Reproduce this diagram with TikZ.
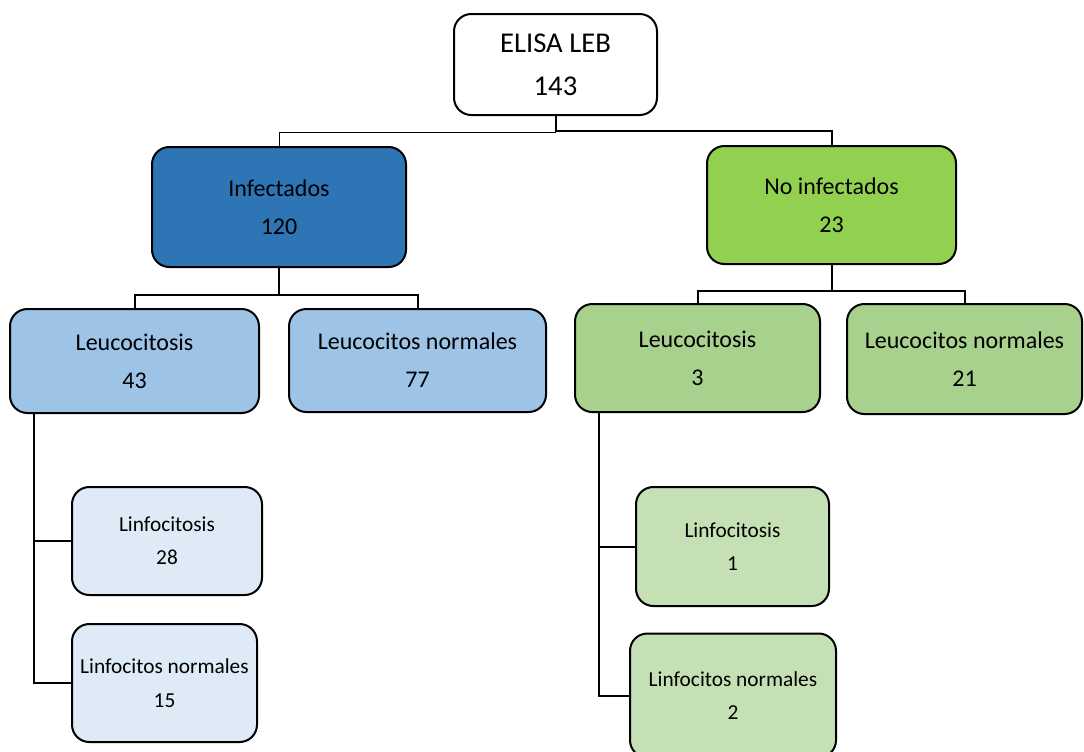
\documentclass[tikz,border=0pt]{standalone}
\usepackage{fontspec}
\setmainfont{Carlito}
\definecolor{azulfuerte}{HTML}{2E75B6}
\definecolor{azulmedio}{HTML}{9DC3E6}
\definecolor{azulclaro}{HTML}{DEEBF7}
\definecolor{verdefuerte}{HTML}{92D050}
\definecolor{verdemedio}{HTML}{A9D18E}
\definecolor{verdeclaro}{HTML}{C5E0B4}
\begin{document}
\begin{tikzpicture}[x=0.75pt,y=-0.75pt,
    caja/.style={draw,line width=1.5pt,rounded corners=13pt,align=center,inner sep=0pt},
    raizbox/.style={caja,fill=white,font=\fontsize{21.5}{32}\selectfont},
    grupo/.style={caja,font=\fontsize{18}{28.5}\selectfont},
    subgrupo/.style={caja,font=\fontsize{16}{25}\selectfont},
    conn/.style={line width=1.5pt}]
    \useasboundingbox (0,0) rectangle (1084,751);
    % raiz
    \node[raizbox,minimum width=152.25pt,minimum height=75.75pt] (raiz) at (555.5,64.5) {ELISA LEB\\143};
    % infectados / no infectados
    \node[grupo,fill=azulfuerte,minimum width=190.5pt,minimum height=90pt] (inf) at (279,207) {Infectados\\120};
    \node[grupo,fill=verdefuerte,minimum width=186.75pt,minimum height=88.5pt] (noinf) at (831.5,205) {No infectados\\23};
    % leucocitos
    \node[grupo,fill=azulmedio,minimum width=186.75pt,minimum height=78pt] (leuI) at (134.5,361) {Leucocitosis\\43};
    \node[grupo,fill=azulmedio,minimum width=192.75pt,minimum height=77.25pt] (normI) at (417.5,360.5) {Leucocitos normales\\77};
    \node[grupo,fill=verdemedio,minimum width=183.75pt,minimum height=81pt] (leuN) at (697.5,358) {Leucocitosis\\3};
    \node[grupo,fill=verdemedio,minimum width=176.25pt,minimum height=82.5pt] (normN) at (964.5,359) {Leucocitos normales\\21};
    % linfocitos
    \node[subgrupo,fill=azulclaro,minimum width=142.5pt,minimum height=81pt] (linfI) at (167,541) {Linfocitosis\\28};
    \node[subgrupo,fill=azulclaro,minimum width=138.75pt,minimum height=88.5pt] (lnormI) at (164.5,683) {Linfocitos normales\\15};
    \node[subgrupo,fill=verdeclaro,minimum width=144.75pt,minimum height=89.25pt] (linfN) at (732.5,546.5) {Linfocitosis\\1};
    \node[subgrupo,fill=verdeclaro,minimum width=154.5pt,minimum height=93pt] (lnormN) at (733,695.5) {Linfocitos normales\\2};
    % conectores
    \draw[line width=0.75pt] (raiz.south) -- ++(0,16) -| (inf.north);
    \draw[conn] (raiz.south) -- ++(0,15) -| (noinf.north);
    \draw[conn] (inf.south) -- ++(0,27) -| (leuI.north);
    \draw[conn] (inf.south) -- ++(0,27) -| (normI.north);
    \draw[conn] (noinf.south) -- ++(0,26) -| (leuN.north);
    \draw[conn] (noinf.south) -- ++(0,26) -| (normN.north);
    \draw[conn] (leuI.south west) ++(25,0) |- (linfI.west);
    \draw[conn] (leuI.south west) ++(25,0) |- (lnormI.west);
    \draw[conn] (leuN.south west) ++(25,0) |- (linfN.west);
    \draw[conn] (leuN.south west) ++(25,0) |- (lnormN.west);
\end{tikzpicture}
\end{document}
